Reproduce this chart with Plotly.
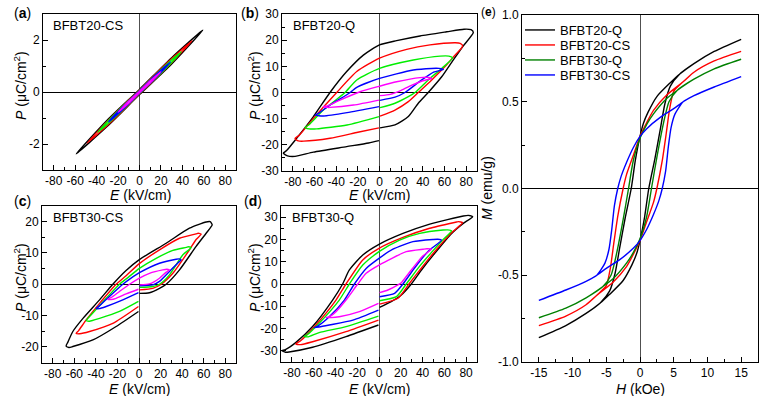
import plotly.graph_objects as go

W, H = 764, 396

# ---------------- tick labels ----------------
E_TICKS = [-80, -60, -40, -20, 0, 20, 40, 60, 80]
E_TICKTEXT = ["-80", "-60", "-40", "-20", "0", "20", "40", "60", "80"]
PA_TICKS = [-2, 0, 2]
PA_TICKTEXT = ["-2", "0", "2"]
PB_TICKS = [-30, -20, -10, 0, 10, 20, 30]
PB_TICKTEXT = ["-30", "-20", "-10", "0", "10", "20", "30"]
PC_TICKS = [-20, -10, 0, 10, 20]
PC_TICKTEXT = ["-20", "-10", "0", "10", "20"]
PD_TICKS = [-30, -20, -10, 0, 10, 20, 30]
PD_TICKTEXT = ["-30", "-20", "-10", "0", "10", "20", "30"]
H_TICKS = [-15, -10, -5, 0, 5, 10, 15]
H_TICKTEXT = ["-15", "-10", "-5", "0", "5", "10", "15"]
M_TICKS = [-1.0, -0.5, 0.0, 0.5, 1.0]
M_TICKTEXT = ["-1.0", "-0.5", "0.0", "0.5", "1.0"]

# ---------------- (a) BFBT20-CS ----------------
A_K_E = [0, 30, 59, 30, 0, -30, -59, -30, 0]
A_K_P = [-0.10, 1.08, 2.38, 1.32, 0.10, -1.08, -2.38, -1.32, -0.10]
A_R_E = [0, 24.5, 49, 24.5, 0, -24.5, -49, -24.5, 0]
A_R_P = [-0.08, 0.89, 1.97, 1.08, 0.08, -0.89, -1.97, -1.08, -0.08]
A_G_E = [0, 19.5, 39, 19.5, 0, -19.5, -39, -19.5, 0]
A_G_P = [-0.06, 0.70, 1.55, 0.85, 0.06, -0.70, -1.55, -0.85, -0.06]
A_B_E = [0, 14.5, 29, 14.5, 0, -14.5, -29, -14.5, 0]
A_B_P = [-0.05, 0.52, 1.15, 0.63, 0.05, -0.52, -1.15, -0.63, -0.05]
A_M_E = [0, 10, 20, 10, 0, -10, -20, -10, 0]
A_M_P = [-0.03, 0.35, 0.78, 0.43, 0.03, -0.35, -0.78, -0.43, -0.03]

# ---------------- (b) BFBT20-Q ----------------
B_K_E = [0.5, 14.3, 26.6, 35.8, 45, 57.4, 68, 77, 86.6, 84.5, 78, 62, 37.4, 15.8, 0, -14.9, -30.3,
         -45.7, -61, -76.5, -86, -88.8, -85, -78, -61, -30.3, -10, -0.5]
B_K_P = [-13.5, -12.4, -9.2, -4.1, 0, 6.0, 12.4, 17.6, 22.9, 24.0, 24.2, 23.2, 21.6, 19.8, 18.2, 14.3,
         8.0, 0, -9.2, -17.5, -22.3, -23.2, -24.2, -24.4, -22.8, -20.7, -19.3, -18.4]
B_R_E = [0.5, 14.3, 26.6, 35.8, 48.2, 60.5, 68, 76.8, 74.5, 70, 46.6, 25.1, 0, -21, -39.5, -61, -74, -78,
         -75, -70, -45.7, -20, -0.5]
B_R_P = [-9.0, -6.7, -3.5, 0, 4.8, 9.9, 13.5, 17.8, 18.8, 19.0, 18.2, 16.5, 13.1, 8.0, 0, -9.9, -16.3, -17.6,
         -18.5, -18.6, -17.5, -15.2, -13.5]
B_G_E = [0.5, 14.3, 26.6, 32.8, 45, 57.4, 67.5, 64, 56, 31.2, 0, -21, -31.8, -51.8, -65, -68.8,
         -65, -58, -30, -0.5]
B_G_P = [-5.8, -4.1, -1.6, 0, 4.8, 9.2, 13.2, 13.9, 13.9, 12.4, 9.2, 4.8, 0, -6.7, -12.3, -13.4,
         -13.9, -13.9, -12.4, -9.2]
B_B_E = [0.5, 14.3, 23.5, 38.9, 50, 58.9, 55, 48, 31.2, 0, -21, -27, -45.7, -56, -59.5,
         -56, -51.8, -30, -0.5]
B_B_P = [-3.0, -1.8, 0, 4.8, 7.8, 8.8, 9.2, 9.2, 8.6, 5.4, 2.0, 0, -4.8, -7.9, -8.6,
         -8.9, -9.0, -7.7, -5.4]
B_M_E = [0.5, 10, 20, 30, 40, 48.2, 45, 37.4, 15.8, 0, -18, -36.5, -48, -51.8, -48, -45.7, -24, -0.5]
B_M_P = [-1.2, -0.7, 0.8, 2.8, 4.5, 5.4, 5.8, 5.7, 4.1, 2.4, 0.3, -2.9, -5.1, -5.4, -5.7, -5.7, -4.8, -2.9]

# ---------------- (c) BFBT30-CS ----------------
C_K_E = [0.5, 9.7, 19, 25.2, 37.6, 53, 62.3, 67.9, 66, 62.3, 46.8, 25.2, 0, -12, -24.3, -36.6, -52, -61.4, -66,
         -67.6, -65, -61.4, -42.8, -21.2, -0.5]
C_K_P = [-2.9, -2.7, -1.3, 0, 4.6, 12.1, 16.3, 19.0, 20.0, 19.9, 17.9, 13.1, 7.8, 4.4, 0, -5.0, -10.9, -15.1, -18.5,
         -19.7, -20.2, -19.9, -17.8, -13.5, -8.7]
C_R_E = [0.5, 12.8, 20.6, 31.4, 46.8, 53, 57.7, 55, 53, 37.6, 19, 0, -12, -21.2, -36.6, -49, -56, -58.3,
         -55, -45.9, -24.3, -0.5]
C_R_P = [-1.8, -1.3, 0, 3.5, 11.0, 14.3, 16.0, 16.3, 16.1, 14.7, 11.0, 6.5, 2.7, 0, -6.1, -11.4, -14.8, -15.7,
         -15.8, -15.1, -12.5, -7.1]
C_G_E = [0.5, 12.8, 19, 28.3, 40.7, 48.4, 46, 43.8, 31.4, 15.9, 0, -10, -18.1, -30.5, -45, -49,
         -46, -36.6, -18.1, -0.5]
C_G_P = [-1.0, -0.7, 0, 3.0, 9.4, 11.7, 12.0, 11.8, 10.8, 8.3, 5.0, 2.2, 0, -4.5, -10.0, -11.6,
         -11.8, -10.9, -8.7, -5.5]
C_B_E = [0.5, 12.8, 19, 28.3, 36, 39.1, 37, 34.5, 19, 0, -8, -15, -27.4, -37, -39.7, -37, -30.5, -15, -0.5]
C_B_P = [-0.5, -0.2, 0.9, 4.1, 6.8, 7.8, 8.1, 8.0, 6.7, 3.6, 1.8, 0, -3.9, -7.0, -7.7, -7.8, -7.1, -5.0, -2.7]
C_M_E = [0.5, 9.7, 19, 25, 28.3, 26, 22.1, 9.7, 0, -8.8, -18.1, -26, -28.9, -26, -21.2, -11.9, -0.5]
C_M_P = [-0.2, 0.1, 1.9, 3.8, 4.6, 4.8, 4.6, 3.5, 1.9, 0, -2.3, -4.3, -4.8, -4.9, -4.5, -3.1, -1.6]

# ---------------- (d) BFBT30-Q ----------------
D_K_E = [0.5, 11.2, 20.5, 29.7, 39, 51.2, 66.7, 76.8, 86, 82, 77.4, 46.6, 22, 0, -14.9, -27.2, -33.4, -42.6,
         -61, -76.5, -86, -89.4, -86, -82.6, -61, -30.3, -0.5]
D_K_P = [-10.5, -7.9, -4.9, 0, 6.3, 13.8, 22.7, 27.0, 30.2, 30.8, 30.5, 26.9, 22.7, 17.8, 13.0, 6.3, 0, -7.2,
         -19.1, -26.3, -29.4, -29.9, -30.6, -30.5, -28.4, -23.6, -18.4]
D_R_E = [0.5, 17.4, 27.5, 39, 51.2, 66.6, 76.8, 73, 71.2, 46.6, 22, 0, -14.9, -30.3, -39.5, -58, -72,
         -76.5, -72, -61, -30.3, -0.5]
D_R_P = [-9.0, -6.4, 0, 7.2, 14.6, 23.0, 27.5, 28.0, 27.8, 25.0, 20.9, 16.0, 10.8, 0, -7.2, -18.4, -25.5,
         -26.9, -27.2, -25.9, -21.4, -16.2]
D_G_E = [0.5, 16, 25, 37, 48.2, 57.4, 66.6, 63, 58.9, 37.4, 18.9, 0, -14.9, -27.2, -36.5, -55, -66,
         -68.8, -65, -55, -30.3, -0.5]
D_G_P = [-7.5, -5.7, 0, 7.8, 14.2, 19.2, 23.9, 24.3, 24.2, 22.7, 19.7, 14.5, 8.5, 0, -7.2, -17.6, -22.8,
         -23.6, -23.7, -21.8, -19.1, -14.4]
D_B_E = [0.5, 14.3, 22, 33, 45, 57.4, 54, 49.7, 31.2, 12.8, 0, -11.8, -22.6, -31.8, -45.7, -56, -59.5,
         -55, -45.7, -24, -0.5]
D_B_P = [-5.7, -4.2, 0, 7.4, 14.6, 19.7, 20.1, 20.0, 19.0, 15.6, 11.5, 7.0, 0, -7.2, -14.7, -18.8, -19.6,
         -19.3, -18.4, -16.2, -11.7]
D_M_E = [0.5, 8.2, 17.4, 20.5, 29.7, 40, 48.2, 44, 40.5, 25, 0, -11.8, -19.5, -30.3, -39.5, -46, -48.8,
         -44, -36.5, -18, -0.5]
D_M_P = [-3.9, -2.7, -0.4, 0.6, 6.3, 12.5, 15.6, 15.8, 15.6, 14.5, 8.5, 4.8, 0, -7.2, -12.4, -14.8, -15.0,
         -15.1, -14.7, -12.4, -8.7]

# ---------------- (e) M-H loops ----------------
E_SERIES = ["BFBT20-Q", "BFBT20-CS", "BFBT30-Q", "BFBT30-CS"]
E_K_H = [15, 11, 8, 5.9, 4.5, 2.5, 1.2, 0.5, 0, -0.7, -1.3, -2.2, -3, -3.7, -4.5, -5.9, -8, -11, -15,
         -11, -8, -5.9, -4.5, -2.5, -1.2, -0.5, 0, 0.7, 1.3, 2.2, 3, 3.7, 4.5, 5.9, 8, 11, 15]
E_K_M = [0.86, 0.79, 0.72, 0.66, 0.61, 0.53, 0.44, 0.375, 0.30, 0.16, 0.0, -0.17, -0.34, -0.49, -0.59, -0.66, -0.72,
         -0.79, -0.86,
         -0.79, -0.72, -0.66, -0.61, -0.53, -0.44, -0.375, -0.30, -0.16, 0.0, 0.17, 0.34, 0.49, 0.59, 0.66, 0.72,
         0.79, 0.86]
E_R_H = [15, 11, 8, 6.4, 4, 2, 1, 0, -1, -2, -2.5, -3.3, -3.9, -4.4, -5, -6.4, -8, -11, -15,
         -11, -8, -6.4, -4, -2, -1, 0, 1, 2, 2.5, 3.3, 3.9, 4.4, 5, 6.4, 8, 11, 15]
E_R_M = [0.79, 0.735, 0.67, 0.615, 0.54, 0.45, 0.38, 0.30, 0.19, 0.08, 0.0, -0.16, -0.32, -0.46, -0.56, -0.615,
         -0.67, -0.735, -0.79,
         -0.735, -0.67, -0.615, -0.54, -0.45, -0.38, -0.30, -0.19, -0.08, 0.0, 0.16, 0.32, 0.46, 0.56, 0.615,
         0.67, 0.735, 0.79]
E_G_H = [15, 11, 8, 5.5, 4, 2, 1, 0, -1, -1.7, -2.5, -3.5, -4.3, -5.5, -8, -11, -15,
         -11, -8, -5.5, -4, -2, -1, 0, 1, 1.7, 2.5, 3.5, 4.3, 5.5, 8, 11, 15]
E_G_M = [0.745, 0.69, 0.63, 0.565, 0.52, 0.43, 0.37, 0.29, 0.16, 0.0, -0.18, -0.38, -0.50, -0.565, -0.63, -0.69,
         -0.745,
         -0.69, -0.63, -0.565, -0.52, -0.43, -0.37, -0.29, -0.16, 0.0, 0.18, 0.38, 0.50, 0.565, 0.63, 0.69, 0.745]
E_B_H = [15, 11, 8, 6.4, 5, 3, 1, 0, -1, -2, -2.8, -3.3, -3.8, -4.2, -4.6, -5.2, -6.4, -8, -11, -15,
         -11, -8, -6.4, -5, -3, -1, 0, 1, 2, 2.8, 3.3, 3.8, 4.2, 4.6, 5.2, 6.4, 8, 11, 15]
E_B_M = [0.645, 0.585, 0.535, 0.50, 0.46, 0.41, 0.345, 0.30, 0.235, 0.15, 0.07, 0.0, -0.10, -0.24, -0.35, -0.43,
         -0.50, -0.535, -0.585, -0.645,
         -0.585, -0.535, -0.50, -0.46, -0.41, -0.345, -0.30, -0.235, -0.15, -0.07, 0.0, 0.10, 0.24, 0.35, 0.43,
         0.50, 0.535, 0.585, 0.645]

PE_COLORS = ["#000000", "#ff0000", "#00ee00", "#0000ff", "#ff00ff"]
MH_COLORS = ["#000000", "#ff0000", "#008000", "#0000ff"]

FONT = "Liberation Sans, Arial, sans-serif"


def xd(px):
    return px / W


def yd(py):
    return 1 - py / H


fig = go.Figure()

panels = [
    ("x", "y", [(A_K_E, A_K_P), (A_R_E, A_R_P), (A_G_E, A_G_P), (A_B_E, A_B_P), (A_M_E, A_M_P)]),
    ("x2", "y2", [(B_K_E, B_K_P), (B_R_E, B_R_P), (B_G_E, B_G_P), (B_B_E, B_B_P), (B_M_E, B_M_P)]),
    ("x3", "y3", [(C_K_E, C_K_P), (C_R_E, C_R_P), (C_G_E, C_G_P), (C_B_E, C_B_P), (C_M_E, C_M_P)]),
    ("x4", "y4", [(D_K_E, D_K_P), (D_R_E, D_R_P), (D_G_E, D_G_P), (D_B_E, D_B_P), (D_M_E, D_M_P)]),
]
for xa, ya, loops in panels:
    for (ex, py), col in zip(loops, PE_COLORS):
        fig.add_trace(go.Scatter(x=ex, y=py, mode="lines", xaxis=xa, yaxis=ya, showlegend=False,
                                 line=dict(color=col, width=1.4, shape="spline", smoothing=0.6),
                                 hoverinfo="skip"))

mh = [(E_K_H, E_K_M), (E_R_H, E_R_M), (E_G_H, E_G_M), (E_B_H, E_B_M)]
legend_ids = ["legend", "legend2", "legend3", "legend4"]
for (hx, my), col, name, lg in zip(mh, MH_COLORS, E_SERIES, legend_ids):
    fig.add_trace(go.Scatter(x=hx, y=my, mode="lines", xaxis="x5", yaxis="y5", name=name, legend=lg,
                             showlegend=True,
                             line=dict(color=col, width=1.4, shape="spline", smoothing=0.6),
                             hoverinfo="skip"))


def axis(dom, rng, tv, tt, minor_dt, anchor, zcol):
    return dict(domain=dom, range=rng, tickmode="array", tickvals=tv, ticktext=tt,
                ticks="inside", ticklen=5, tickwidth=1, tickcolor="black",
                showline=True, linecolor="black", linewidth=1, mirror=True, automargin=False,
                showgrid=False, zeroline=True, zerolinecolor=zcol, zerolinewidth=1,
                tickfont=dict(family=FONT, size=12, color="black"), anchor=anchor,
                minor=dict(ticks="inside", ticklen=3, tickwidth=1, tickcolor="black",
                           tickmode="linear", tick0=0, dtick=minor_dt, showgrid=False))


VCOL = "#505050"
layout = dict(
    width=W, height=H, margin=dict(l=0, r=0, t=0, b=0, autoexpand=False),
    paper_bgcolor="white", plot_bgcolor="white",
    font=dict(family=FONT, size=12, color="black"),
    xaxis=axis([xd(43), xd(236)], [-90, 90], E_TICKS, E_TICKTEXT, 10, "y", VCOL),
    yaxis=axis([yd(170), yd(14)], [-3, 3], PA_TICKS, PA_TICKTEXT, 1, "x", "black"),
    xaxis2=axis([xd(282), xd(477)], [-90, 90], E_TICKS, E_TICKTEXT, 10, "y2", VCOL),
    yaxis2=axis([yd(171), yd(14)], [-30, 30], PB_TICKS, PB_TICKTEXT, 5, "x2", "black"),
    xaxis3=axis([xd(42), xd(236)], [-90, 90], E_TICKS, E_TICKTEXT, 10, "y3", VCOL),
    yaxis3=axis([yd(362.5), yd(206)], [-25, 25], PC_TICKS, PC_TICKTEXT, 5, "x3", "black"),
    xaxis4=axis([xd(281), xd(477)], [-90, 90], E_TICKS, E_TICKTEXT, 10, "y4", VCOL),
    yaxis4=axis([yd(362), yd(206)], [-35, 35], PD_TICKS, PD_TICKTEXT, 5, "x4", "black"),
    xaxis5=axis([xd(522), xd(758)], [-17.5, 17.5], H_TICKS, H_TICKTEXT, 2.5, "y5", VCOL),
    yaxis5=axis([yd(362), yd(15)], [-1, 1], M_TICKS, M_TICKTEXT, 0.25, "x5", "black"),
)
leg_y = [30, 45, 60, 75]
for lg, ly in zip(legend_ids, leg_y):
    layout[lg] = dict(x=xd(520), y=yd(ly), xanchor="left", yanchor="middle",
                      bgcolor="rgba(0,0,0,0)", borderwidth=0,
                      font=dict(family=FONT, size=13, color="black"))
fig.update_layout(**layout)

ann = []


def text(s, px, py, size=13, xanchor="center", angle=0):
    ann.append(dict(text=s, x=xd(px), y=yd(py), xref="paper", yref="paper", showarrow=False,
                    xanchor=xanchor, yanchor="middle", textangle=angle,
                    font=dict(family=FONT, size=size, color="black")))


# panel letters
text("(<b>a</b>)", 22, 13, 14)
text("(<b>b</b>)", 250, 13, 14)
text("(<b>c</b>)", 22, 201, 14)
text("(<b>d</b>)", 253, 201, 14)
text("(<b>e</b>)", 488, 12, 12)
# inset names
text("BFBT20-CS", 51, 26, 13, "left")
text("BFBT20-Q", 291, 26, 13, "left")
text("BFBT30-CS", 51, 217, 13, "left")
text("BFBT30-Q", 290, 217, 13, "left")
# axis titles
for cx, cy in [(140, 195), (379, 195), (139, 389), (379, 389)]:
    text("<i>E</i> (kV/cm)", cx, cy, 14)
for cx, cy in [(20, 86), (254, 86), (20, 278), (254, 278)]:
    text("<i>P</i> (μC/cm<sup>2</sup>)", cx, cy, 14, angle=-90)
text("<i>H</i> (kOe)", 640, 389, 14)
text("<i>M</i> (emu/g)", 487, 188, 14, angle=-90)

fig.update_layout(annotations=ann)
fig.write_html("out.html", config={"displayModeBar": False},
               post_script="document.body.style.margin='0px';document.body.style.overflow='hidden';")
